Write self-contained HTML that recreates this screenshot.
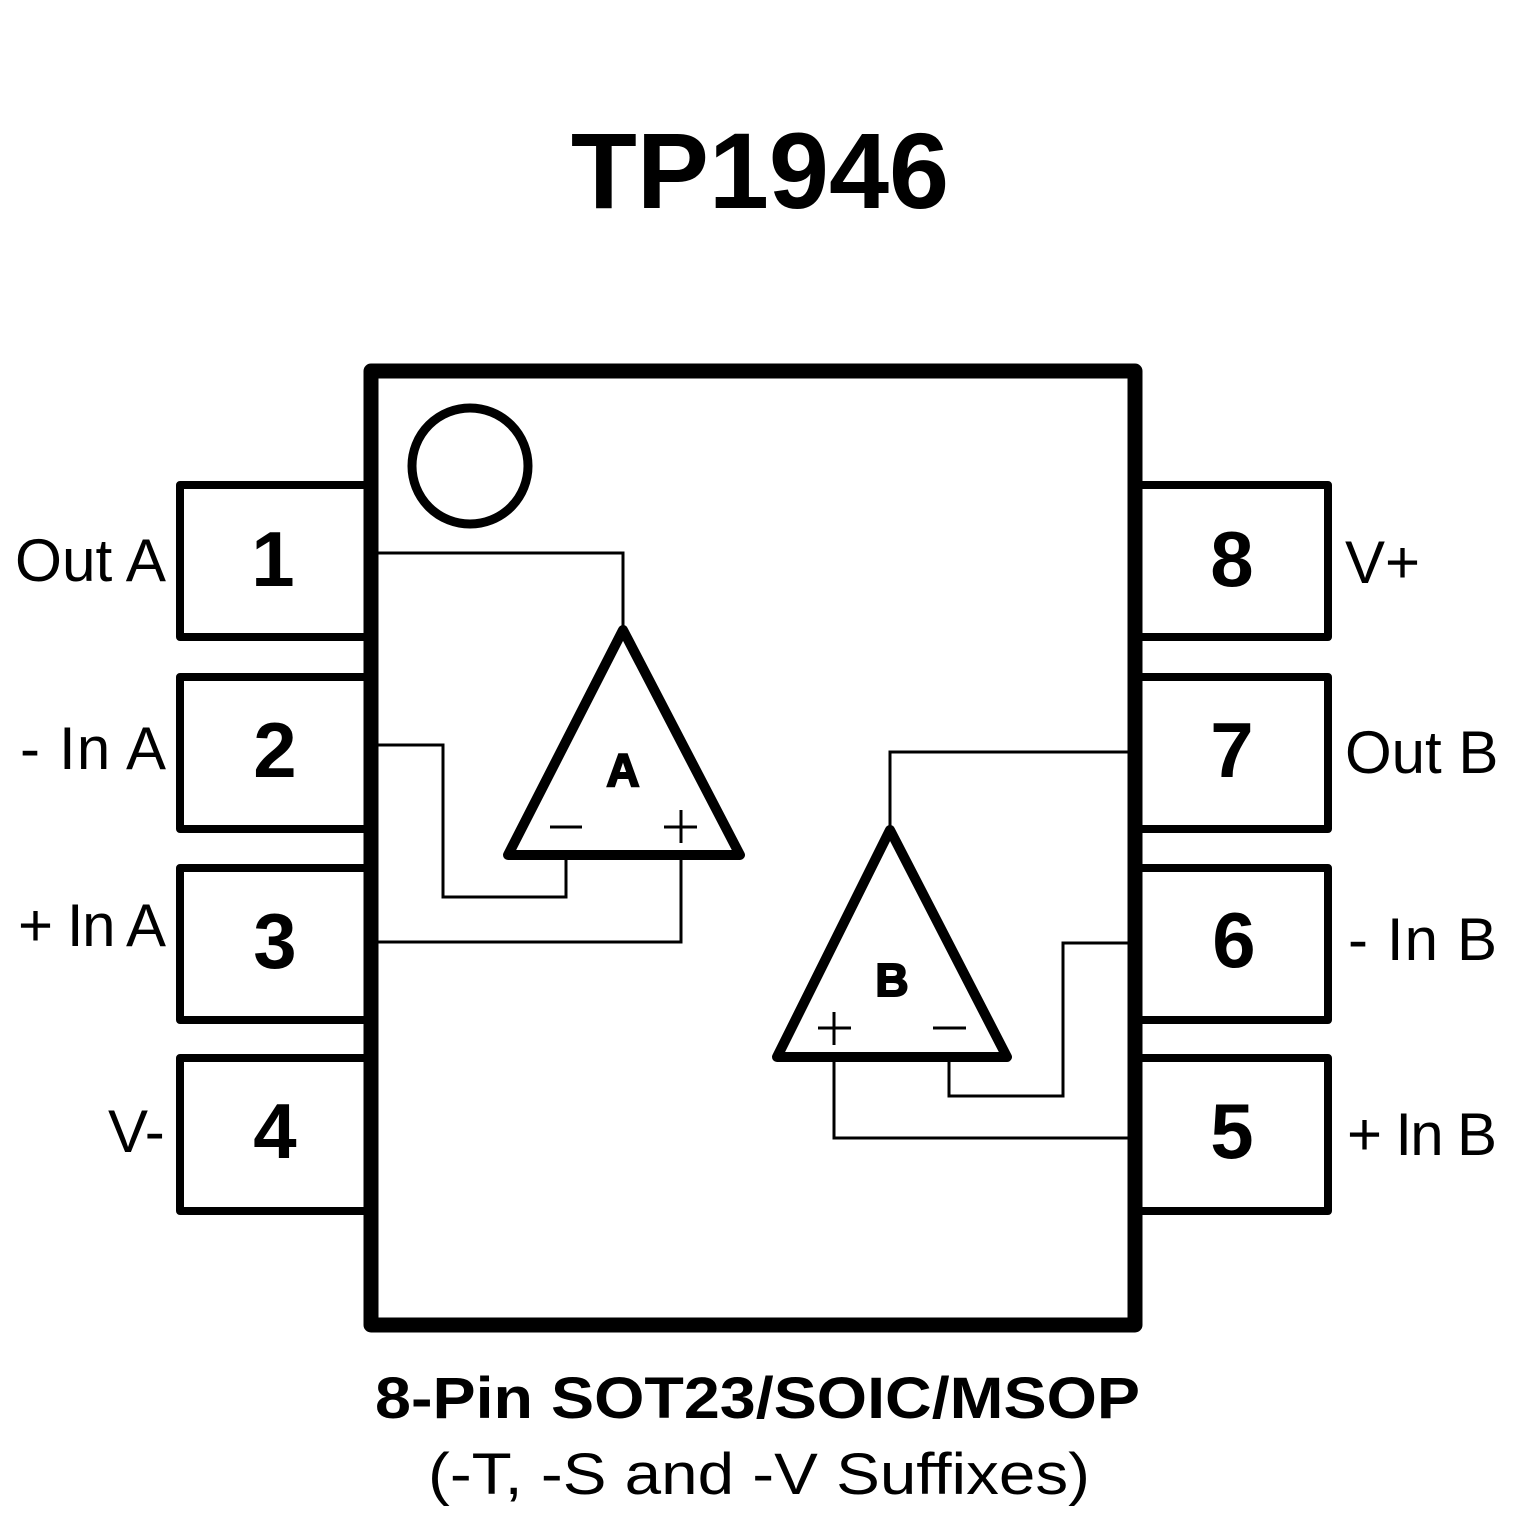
<!DOCTYPE html>
<html><head><meta charset="utf-8"><style>
html,body{margin:0;padding:0;background:#fff;}
svg{display:block;}
text{font-family:"Liberation Sans",Arial,sans-serif;fill:#000;}
</style></head><body>
<svg width="1535" height="1535" viewBox="0 0 1535 1535" xmlns="http://www.w3.org/2000/svg">
<text x="760" y="208" font-size="108" font-weight="bold" text-anchor="middle">TP1946</text>

<g fill="none" stroke="#000" stroke-width="8" stroke-linejoin="round">
<rect x="180" y="485" width="191" height="152"/>
<rect x="180" y="677" width="191" height="152"/>
<rect x="180" y="868" width="191" height="152"/>
<rect x="180" y="1058" width="191" height="153"/>
<rect x="1135" y="485" width="193" height="152"/>
<rect x="1135" y="677" width="193" height="152"/>
<rect x="1135" y="868" width="193" height="152"/>
<rect x="1135" y="1058" width="193" height="153"/>
</g>
<rect x="371" y="371" width="764" height="954" fill="#fff" stroke="#000" stroke-width="15" stroke-linejoin="round"/>
<circle cx="470" cy="466" r="58" fill="none" stroke="#000" stroke-width="9"/>

<g fill="none" stroke="#000" stroke-width="3">
<polyline points="378,553 623,553 623,630"/>
<polyline points="378,745 443,745 443,897 566,897 566,855"/>
<polyline points="378,942 681,942 681,855"/>
<polyline points="1128,752 890,752 890,830"/>
<polyline points="1128,943 1063,943 1063,1096 949,1096 949,1057"/>
<polyline points="1128,1138 834,1138 834,1057"/>
<line x1="550" y1="827" x2="582" y2="827"/>
<line x1="664" y1="827" x2="697" y2="827"/>
<line x1="681" y1="810" x2="681" y2="843"/>
<line x1="818" y1="1028" x2="851" y2="1028"/>
<line x1="834" y1="1012" x2="834" y2="1045"/>
<line x1="933" y1="1028" x2="966" y2="1028"/>
</g>
<g fill="none" stroke="#000" stroke-width="10" stroke-linejoin="round">
<polygon points="623,630 740,855 508,855"/>
<polygon points="890,830 1007,1057 777,1057"/>
</g>
<text x="623" y="786" font-size="46" font-weight="bold" text-anchor="middle" stroke="#000" stroke-width="2">A</text>
<text x="892" y="996" font-size="46" font-weight="bold" text-anchor="middle" stroke="#000" stroke-width="2">B</text>

<g font-size="78" font-weight="bold" text-anchor="middle">
<text x="273" y="586">1</text>
<text x="275" y="777">2</text>
<text x="275" y="968">3</text>
<text x="275" y="1158">4</text>
<text x="1232" y="586">8</text>
<text x="1232" y="777">7</text>
<text x="1234" y="967">6</text>
<text x="1232" y="1158">5</text>
</g>
<g font-size="60">
<text x="15" y="581" textLength="151" lengthAdjust="spacingAndGlyphs">Out A</text>
<text x="20" y="769" textLength="146" lengthAdjust="spacing">- In A</text>
<text x="18" y="946" textLength="148" lengthAdjust="spacing">+ In A</text>
<text x="108" y="1152">V-</text>
</g>
<g font-size="60">
<text x="1345" y="583">V+</text>
<text x="1345" y="773">Out B</text>
<text x="1348" y="960" textLength="149" lengthAdjust="spacing">- In B</text>
<text x="1347" y="1155" textLength="150" lengthAdjust="spacing">+ In B</text>
</g>
<text x="375" y="1418" font-size="58" font-weight="bold" textLength="765" lengthAdjust="spacingAndGlyphs">8-Pin SOT23/SOIC/MSOP</text>
<text x="428" y="1494" font-size="58" textLength="662" lengthAdjust="spacingAndGlyphs">(-T, -S and -V Suffixes)</text>
</svg>
</body></html>
